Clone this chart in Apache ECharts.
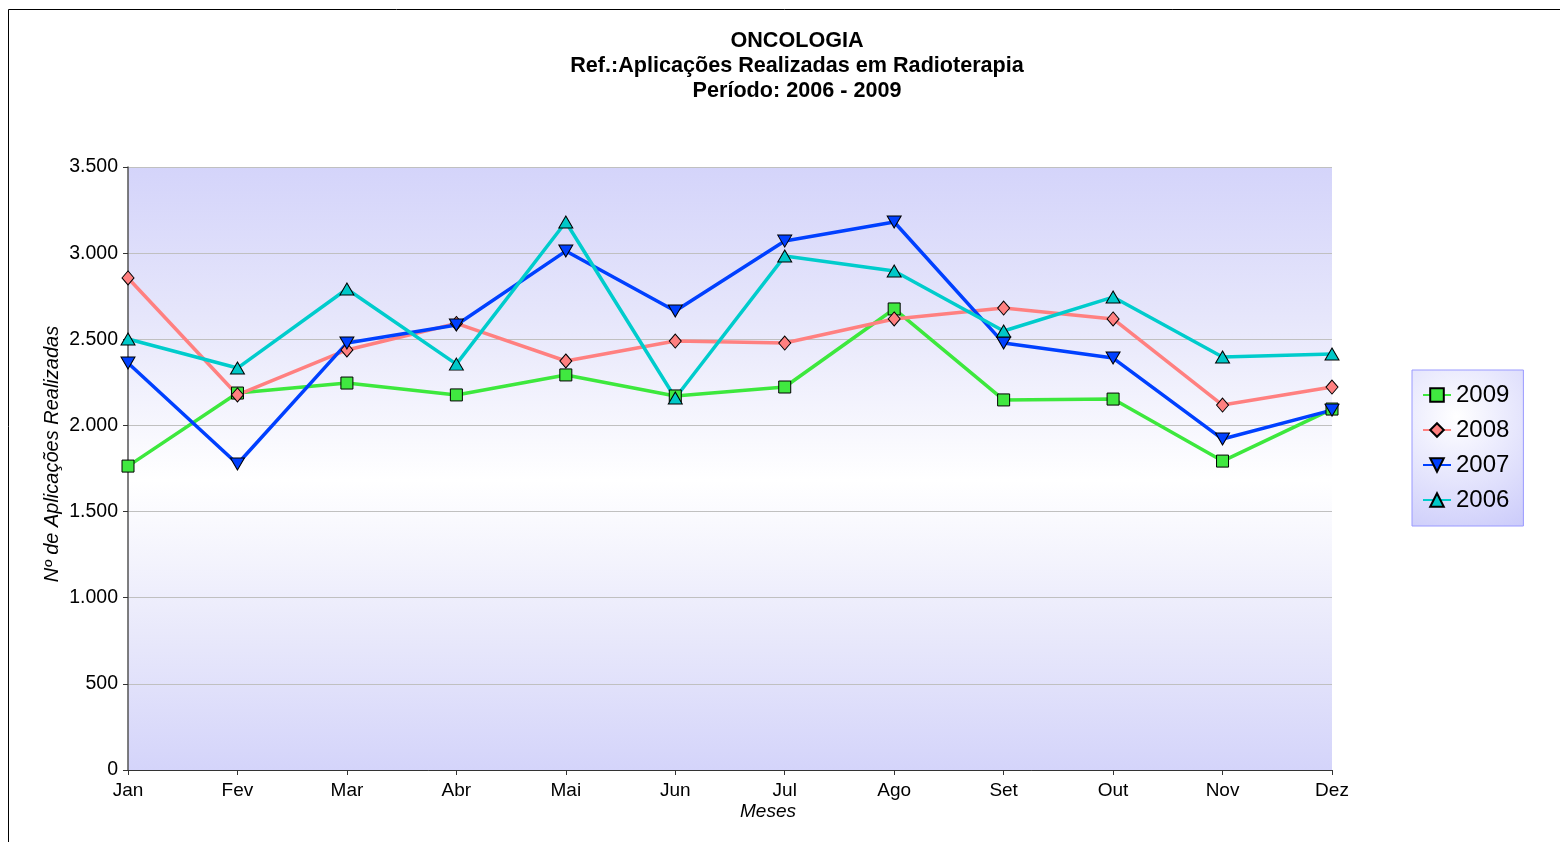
<!DOCTYPE html>
<html>
<head>
<meta charset="utf-8">
<script src="https://cdn.jsdelivr.net/npm/echarts@6/dist/echarts.min.js"></script>
<style>html,body{margin:0;padding:0;background:#fff}#c{width:1560px;height:842px}</style>
</head>
<body>
<div id="c"></div>
<script>
const months = ['Jan','Fev','Mar','Abr','Mai','Jun','Jul','Ago','Set','Out','Nov','Dez'];
const s2009 = [1764, 2188, 2246, 2177, 2293, 2171, 2223, 2676, 2148, 2153, 1793, 2095];
const s2008 = [2856, 2177, 2438, 2592, 2374, 2490, 2478, 2618, 2681, 2618, 2118, 2223];
const s2007 = [2362, 1776, 2478, 2583, 3012, 2664, 3070, 3181, 2478, 2391, 1921, 2089];
const s2006 = [2502, 2333, 2792, 2356, 3181, 2159, 2983, 2896, 2548, 2745, 2397, 2415];
const yTicks = { min: 0, max: 3500, interval: 500 };

const font = '"Liberation Sans", Arial, sans-serif';
const chart = echarts.init(document.getElementById('c'));

function fmt(v) { return String(v).replace(/\B(?=(\d{3})+(?!\d))/g, '.'); }

function mkSeries(name, data, color, fill, symbol, size, rotate) {
  return {
    name, type: 'line', data,
    symbol, symbolSize: size, symbolRotate: rotate || 0,
    lineStyle: { color, width: 3.5 },
    itemStyle: { color: fill, borderColor: '#000', borderWidth: 1 },
    emphasis: { disabled: true },
    z: 3
  };
}

const bgGrad = {
  type: 'linear', x: 0, y: 0, x2: 0, y2: 1,
  colorStops: [
    { offset: 0, color: '#d4d4fa' },
    { offset: 0.25, color: '#e6e6fb' },
    { offset: 0.52, color: '#ffffff' },
    { offset: 0.78, color: '#e8e8fb' },
    { offset: 1, color: '#d4d4fa' }
  ]
};

chart.setOption({
  animation: false,
  title: {
    text: 'ONCOLOGIA\nRef.:Aplicações Realizadas em Radioterapia\nPeríodo: 2006 - 2009',
    left: 792, top: 24, textAlign: 'center',
    textStyle: { fontFamily: font, fontSize: 21.6, fontWeight: 'bold', color: '#000', lineHeight: 25 }
  },
  grid: {
    left: 128, right: 228, top: 167, bottom: 72,
    show: true, backgroundColor: bgGrad, borderWidth: 0
  },
  legend: {
    orient: 'vertical',
    left: 1412, top: 370,
    padding: [13, 14, 14, 10],
    itemGap: 11, itemWidth: 28, itemHeight: 17,
    backgroundColor: {
      type: 'radial', x: 0.4, y: 0.3, r: 1.2,
      colorStops: [{ offset: 0, color: '#ffffff' }, { offset: 1, color: '#c8c8fa' }]
    },
    borderColor: '#9a9aff', borderWidth: 1,
    textStyle: { fontFamily: font, fontSize: 24, color: '#000' },
    data: ['2009', '2008', '2007', '2006']
  },
  xAxis: {
    type: 'category', data: months, boundaryGap: false,
    axisLine: { lineStyle: { color: '#333', width: 1 } },
    axisTick: { show: true, length: 5, lineStyle: { color: '#333' } },
    axisLabel: { fontFamily: font, fontSize: 19, color: '#000', margin: 11 },
    splitLine: { show: false }
  },
  yAxis: {
    type: 'value', min: yTicks.min, max: yTicks.max, interval: yTicks.interval,
    axisLine: { show: true, lineStyle: { color: '#555', width: 1.5 } },
    axisTick: { show: true, length: 5, lineStyle: { color: '#333' } },
    axisLabel: { fontFamily: font, fontSize: 19.5, color: '#000', margin: 10, formatter: fmt },
    splitLine: { show: true, lineStyle: { color: '#c0c0c0', width: 1 } }
  },
  graphic: [
    { type: 'rect', shape: { x: 8.5, y: 9.5, width: 1600, height: 900 },
      style: { fill: 'none', stroke: '#000', lineWidth: 1 }, silent: true, z: 100 },
    { type: 'text', x: 52, y: 454, rotation: Math.PI / 2,
      style: { text: 'Nº de Aplicações Realizadas', font: 'italic 20px ' + font, fill: '#000',
               align: 'center', verticalAlign: 'middle' } },
    { type: 'text', x: 768, y: 812,
      style: { text: 'Meses', font: 'italic 19px ' + font, fill: '#000',
               align: 'center', verticalAlign: 'middle' } }
  ],
  series: [
    mkSeries('2009', s2009, '#3de83d', '#40e840', 'rect', 12),
    mkSeries('2008', s2008, '#ff8080', '#ff8080', 'diamond', [12, 14]),
    mkSeries('2007', s2007, '#0040ff', '#0040ff', 'triangle', [14, 12], 180),
    mkSeries('2006', s2006, '#00cccc', '#00c8c8', 'triangle', [14, 12])
  ]
});
</script>
</body>
</html>
